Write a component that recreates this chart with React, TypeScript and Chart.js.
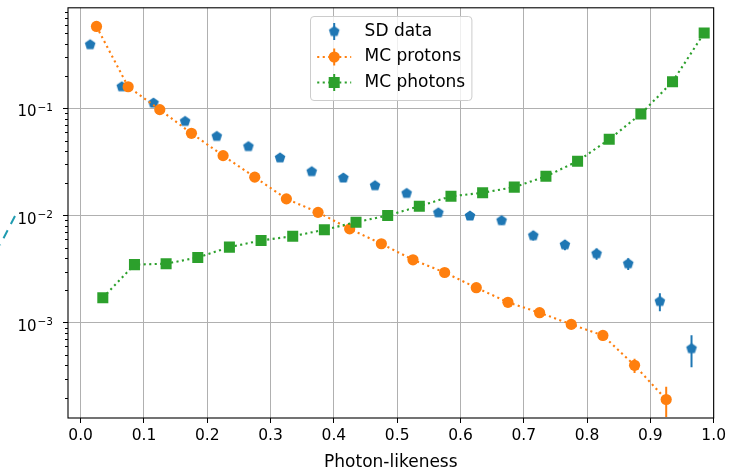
import React, { useEffect, useRef } from "react";
import { Chart, registerables } from "chart.js";

Chart.register(...registerables);

const FONT = "'DejaVu Sans', sans-serif";

const SD_X = [0.015, 0.065, 0.115, 0.165, 0.215, 0.265, 0.315, 0.365, 0.415, 0.465, 0.515, 0.565, 0.615, 0.665, 0.715, 0.765, 0.815, 0.865, 0.915, 0.965];
const SD_Y = [0.393, 0.159, 0.112, 0.0756, 0.0548, 0.044, 0.0345, 0.0257, 0.0224, 0.019, 0.0161, 0.0106, 0.0099, 0.00897, 0.00649, 0.00533, 0.0044, 0.00355, 0.00158, 0.000573];
const SD_ERR = [0.005, 0.0032, 0.0027, 0.0022, 0.0019, 0.0017, 0.0015, 0.0013, 0.0012, 0.0011, 0.001, 0.00082, 0.00079, 0.00076, 0.00064, 0.00058, 0.00053, 0.00045, 0.0003, 0.00019];

const PROTON_X = [0.025, 0.075, 0.125, 0.175, 0.225, 0.275, 0.325, 0.375, 0.425, 0.475, 0.525, 0.575, 0.625, 0.675, 0.725, 0.775, 0.825, 0.875, 0.925];
const PROTON_Y = [0.581, 0.159, 0.0972, 0.0585, 0.0362, 0.0228, 0.0143, 0.0107, 0.0075, 0.00545, 0.00386, 0.00294, 0.00212, 0.00155, 0.00124, 0.000964, 0.00076, 0.0004, 0.000192];
const PROTON_ERR = [0.0023, 0.0012, 0.00094, 0.00073, 0.00057, 0.00045, 0.00036, 0.00031, 0.00026, 0.00022, 0.00019, 0.00016, 0.00014, 0.00012, 0.00011, 0.000093, 0.000083, 0.00006, 0.00006];

const PHOTON_X = [0.035, 0.085, 0.135, 0.185, 0.235, 0.285, 0.335, 0.385, 0.435, 0.485, 0.535, 0.585, 0.635, 0.685, 0.735, 0.785, 0.835, 0.885, 0.935, 0.985];
const PHOTON_Y = [0.00171, 0.00348, 0.00355, 0.00406, 0.00507, 0.00585, 0.00641, 0.00736, 0.00867, 0.01, 0.0122, 0.0151, 0.0163, 0.0184, 0.0232, 0.0321, 0.0514, 0.0887, 0.177, 0.505];
const PHOTON_ERR = [0.00006, 0.00008, 0.00009, 0.00009, 0.0001, 0.00011, 0.00011, 0.00012, 0.00013, 0.00014, 0.00015, 0.00017, 0.00018, 0.00019, 0.00021, 0.00025, 0.00032, 0.00042, 0.0006, 0.001];

const X_TICKS = [0, 0.1, 0.2, 0.3, 0.4, 0.5, 0.6, 0.7, 0.8, 0.9, 1.0];
const Y_TICKS = [1e-3, 1e-2, 1e-1];
const X_MIN = -0.02;
const X_MAX = 1.0;
const Y_MIN = 1.29e-4;
const Y_MAX = 0.867;

const LEGEND_LABELS = ["SD data", "MC protons", "MC photons"];
const X_LABEL = "Photon-likeness";

const BLUE = "#1f77b4";
const ORANGE = "#ff7f0e";
const GREEN = "#2ca02c";

function makePentagon(color: string, r: number): HTMLCanvasElement {
  const size = 14;
  const c = document.createElement("canvas");
  c.width = size;
  c.height = size;
  const g = c.getContext("2d")!;
  g.beginPath();
  for (let k = 0; k < 5; k++) {
    const a = -Math.PI / 2 + (k * 2 * Math.PI) / 5;
    const px = size / 2 + r * Math.cos(a);
    const py = size / 2 + r * Math.sin(a);
    if (k === 0) g.moveTo(px, py);
    else g.lineTo(px, py);
  }
  g.closePath();
  g.fillStyle = color;
  g.fill();
  return c;
}

function zip(xs: number[], ys: number[]) {
  return xs.map((x, i) => ({ x, y: ys[i] }));
}

export default function App() {
  const ref = useRef<HTMLCanvasElement | null>(null);

  useEffect(() => {
    document.body.style.margin = "0";
    const canvas = ref.current!;
    const pentagon = makePentagon(BLUE, 5.6);

    const errorBars = {
      id: "errorBars",
      beforeDatasetDraw(chart: any, args: any) {
        const ds = chart.data.datasets[args.index];
        const errs: number[] | undefined = ds.errors;
        if (!errs) return;
        const { ctx, chartArea } = chart;
        const xs = chart.scales.x;
        const ys = chart.scales.y;
        ctx.save();
        ctx.beginPath();
        ctx.rect(chartArea.left, chartArea.top, chartArea.right - chartArea.left, chartArea.bottom - chartArea.top);
        ctx.clip();
        ctx.strokeStyle = ds.errColor;
        ctx.lineWidth = 2;
        ds.data.forEach((p: any, i: number) => {
          const e = errs[i];
          const px = xs.getPixelForValue(p.x);
          const yTop = ys.getPixelForValue(p.y + e);
          const lo = p.y - e > 0 ? p.y - e : Y_MIN / 10;
          const yBot = ys.getPixelForValue(lo);
          ctx.beginPath();
          ctx.moveTo(px, yTop);
          ctx.lineTo(px, yBot);
          ctx.stroke();
        });
        ctx.restore();
      },
    };

    const decorations = {
      id: "decorations",
      afterDraw(chart: any) {
        const { ctx, chartArea: a } = chart;
        const ys = chart.scales.y;
        ctx.save();

        // y minor ticks
        ctx.strokeStyle = "#000";
        ctx.lineWidth = 1;
        for (let d = -5; d <= 0; d++) {
          for (let m = 2; m <= 9; m++) {
            const v = m * Math.pow(10, d);
            if (v < Y_MIN || v > Y_MAX) continue;
            const y = Math.round(ys.getPixelForValue(v)) + 0.5;
            ctx.beginPath();
            ctx.moveTo(a.left - 3, y);
            ctx.lineTo(a.left, y);
            ctx.stroke();
          }
        }

        // y tick labels (10^n)
        ctx.fillStyle = "#000";
        ctx.textBaseline = "alphabetic";
        ctx.textAlign = "left";
        Y_TICKS.forEach((v) => {
          const y = ys.getPixelForValue(v);
          const exp = Math.round(Math.log10(v));
          const sup = (exp < 0 ? "\u2212" : "") + Math.abs(exp);
          ctx.font = `15px ${FONT}`;
          const wBase = ctx.measureText("10").width;
          ctx.font = `10.5px ${FONT}`;
          const wSup = ctx.measureText(sup).width;
          const right = a.left - 15;
          const x0 = right - wSup - wBase - 1;
          ctx.font = `15px ${FONT}`;
          ctx.fillText("10", x0, y + 8);
          ctx.font = `10.5px ${FONT}`;
          ctx.fillText(sup, x0 + wBase + 1, y + 2.5);
        });

        // frame
        ctx.strokeStyle = "#000";
        ctx.lineWidth = 1.1;
        ctx.strokeRect(a.left, a.top, a.right - a.left, a.bottom - a.top);

        // x axis label
        ctx.font = `17px ${FONT}`;
        ctx.textAlign = "center";
        ctx.textBaseline = "alphabetic";
        ctx.fillStyle = "#000";
        ctx.fillText(X_LABEL, (a.left + a.right) / 2, 467);

        // legend
        ctx.font = `17px ${FONT}`;
        const textW = Math.max(...LEGEND_LABELS.map((t) => ctx.measureText(t).width));
        const pad = 6.7;
        const handle = 34;
        const hpad = 13.4;
        const w = pad * 2 + handle + hpad + textW;
        const h = 84;
        const cx = (a.left + a.right) / 2;
        const x0 = Math.round(cx - w / 2) + 0.5;
        const y0 = Math.round(a.top + 8) + 0.5;
        ctx.beginPath();
        (ctx as any).roundRect(x0, y0, w, h, 3.5);
        ctx.fillStyle = "rgba(255,255,255,0.8)";
        ctx.fill();
        ctx.strokeStyle = "#cccccc";
        ctx.lineWidth = 1;
        ctx.stroke();

        const colors = [BLUE, ORANGE, GREEN];
        LEGEND_LABELS.forEach((label, i) => {
          const ry = y0 + 15 + i * 25.5;
          const hx0 = x0 + pad;
          const hcx = hx0 + handle / 2;
          const col = colors[i];
          if (i > 0) {
            ctx.save();
            ctx.strokeStyle = col;
            ctx.lineWidth = 2.1;
            ctx.setLineDash([2.1, 3.4]);
            ctx.beginPath();
            ctx.moveTo(hx0, ry);
            ctx.lineTo(hx0 + handle, ry);
            ctx.stroke();
            ctx.restore();
          }
          ctx.strokeStyle = col;
          ctx.lineWidth = 2;
          ctx.beginPath();
          ctx.moveTo(hcx, ry - 8.5);
          ctx.lineTo(hcx, ry + 8.5);
          ctx.stroke();
          ctx.fillStyle = col;
          if (i === 0) {
            ctx.drawImage(pentagon, hcx - pentagon.width / 2, ry - pentagon.height / 2);
          } else if (i === 1) {
            ctx.beginPath();
            ctx.arc(hcx, ry, 5.6, 0, Math.PI * 2);
            ctx.fill();
          } else {
            ctx.fillRect(hcx - 5.5, ry - 5.5, 11, 11);
          }
          ctx.fillStyle = "#000";
          ctx.textAlign = "left";
          ctx.textBaseline = "middle";
          ctx.fillText(label, hx0 + handle + hpad, ry);
        });

        // stray teal dashed mark at the left edge
        ctx.save();
        ctx.strokeStyle = "#1f9bb0";
        ctx.lineWidth = 2;
        ctx.setLineDash([9, 7]);
        ctx.beginPath();
        ctx.moveTo(15, 216);
        ctx.lineTo(0, 245);
        ctx.stroke();
        ctx.restore();

        ctx.restore();
      },
    };

    const chart = new Chart(canvas, {
      type: "scatter",
      data: {
        datasets: [
          {
            label: LEGEND_LABELS[0],
            data: zip(SD_X, SD_Y),
            showLine: false,
            pointStyle: pentagon as any,
            pointRadius: 5.6,
            backgroundColor: BLUE,
            borderColor: BLUE,
            errors: SD_ERR,
            errColor: BLUE,
          } as any,
          {
            label: LEGEND_LABELS[1],
            data: zip(PROTON_X, PROTON_Y),
            showLine: true,
            borderColor: ORANGE,
            borderWidth: 2.1,
            borderDash: [2.1, 3.4],
            pointStyle: "circle",
            pointRadius: 5.6,
            pointBorderWidth: 0,
            pointBackgroundColor: ORANGE,
            backgroundColor: ORANGE,
            errors: PROTON_ERR,
            errColor: ORANGE,
          } as any,
          {
            label: LEGEND_LABELS[2],
            data: zip(PHOTON_X, PHOTON_Y),
            showLine: true,
            borderColor: GREEN,
            borderWidth: 2.1,
            borderDash: [2.1, 3.4],
            pointStyle: "rect",
            pointRadius: 7.8,
            pointBorderWidth: 0,
            pointBackgroundColor: GREEN,
            backgroundColor: GREEN,
            errors: PHOTON_ERR,
            errColor: GREEN,
          } as any,
        ].map((d: any, i: number) => ({ ...d, order: 3 - i })),
      },
      options: {
        responsive: false,
        animation: false,
        events: [],
        layout: { padding: { top: 7, right: 14, left: 0, bottom: 0 } },
        plugins: {
          legend: { display: false },
          tooltip: { enabled: false },
        },
        scales: {
          x: {
            type: "linear",
            min: X_MIN,
            max: X_MAX,
            afterBuildTicks: (s: any) => {
              s.ticks = X_TICKS.map((v) => ({ value: v }));
            },
            afterFit: (s: any) => {
              s.height = 52;
            },
            ticks: {
              callback: (v: any) => Number(v).toFixed(1),
              font: { family: FONT, size: 15.5 },
              color: "#000",
              padding: 4,
              maxRotation: 0,
              autoSkip: false,
            },
            grid: {
              color: "#b0b0b0",
              lineWidth: 1,
              tickColor: "#000",
              tickLength: 5,
              tickWidth: 1,
            },
            border: { display: false },
          },
          y: {
            type: "logarithmic",
            min: Y_MIN,
            max: Y_MAX,
            afterBuildTicks: (s: any) => {
              s.ticks = Y_TICKS.map((v) => ({ value: v }));
            },
            afterFit: (s: any) => {
              s.width = 68;
            },
            ticks: { display: false },
            grid: {
              color: "#b0b0b0",
              lineWidth: 1,
              tickColor: "#000",
              tickLength: 5,
              tickWidth: 1,
            },
            border: { display: false },
          },
        },
      },
      plugins: [errorBars, decorations],
    } as any);

    return () => chart.destroy();
  }, []);

  return (
    <div style={{ position: "absolute", left: 0, top: 0, width: 730, height: 470 }}>
      <canvas ref={ref} width={730} height={470} style={{ width: 730, height: 470, display: "block" }} />
    </div>
  );
}
